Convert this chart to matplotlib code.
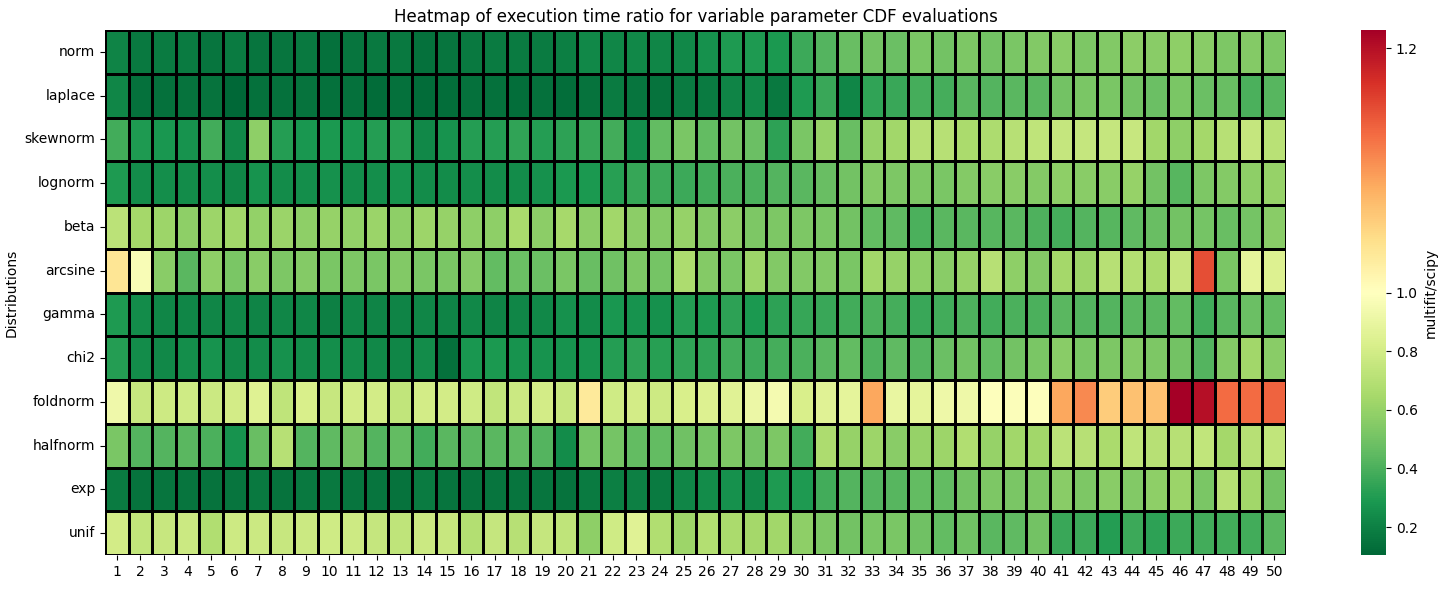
import numpy as np
import pandas as pd
import matplotlib
matplotlib.use("Agg")
import matplotlib.pyplot as plt
import seaborn as sns
from matplotlib.colors import TwoSlopeNorm

distributions = ["norm", "laplace", "skewnorm", "lognorm", "beta", "arcsine",
                 "gamma", "chi2", "foldnorm", "halfnorm", "exp", "unif"]
n_params = list(range(1, 51))

norm_vals = [0.21, 0.17, 0.18, 0.18, 0.16, 0.18, 0.16, 0.16, 0.17, 0.14, 0.16, 0.17,
             0.17, 0.14, 0.16, 0.17, 0.18, 0.18, 0.18, 0.19, 0.23, 0.22, 0.23, 0.22, 0.23,
             0.26, 0.30, 0.30, 0.29, 0.37, 0.42, 0.47, 0.50, 0.48, 0.52, 0.50, 0.53, 0.50,
             0.52, 0.54, 0.56, 0.53, 0.54, 0.57, 0.56, 0.58, 0.56, 0.53, 0.55, 0.53]
laplace_vals = [0.22, 0.14, 0.14, 0.15, 0.15, 0.105, 0.14, 0.14, 0.15, 0.14, 0.14, 0.12,
                0.14, 0.12, 0.13, 0.14, 0.14, 0.13, 0.14, 0.13, 0.15, 0.18, 0.16, 0.15, 0.18,
                0.18, 0.21, 0.23, 0.17, 0.30, 0.36, 0.22, 0.34, 0.36, 0.39, 0.39, 0.44, 0.42,
                0.44, 0.44, 0.50, 0.52, 0.52, 0.50, 0.48, 0.52, 0.48, 0.47, 0.40, 0.43]
skewnorm_vals = [0.38, 0.30, 0.28, 0.27, 0.38, 0.23, 0.58, 0.31, 0.28, 0.29, 0.28, 0.31,
                 0.32, 0.23, 0.27, 0.31, 0.31, 0.34, 0.31, 0.33, 0.35, 0.38, 0.25, 0.46, 0.52,
                 0.46, 0.50, 0.48, 0.33, 0.52, 0.60, 0.47, 0.60, 0.63, 0.70, 0.70, 0.66, 0.67,
                 0.70, 0.73, 0.75, 0.75, 0.75, 0.76, 0.63, 0.58, 0.64, 0.70, 0.75, 0.71]
lognorm_vals = [0.30, 0.24, 0.25, 0.24, 0.25, 0.22, 0.27, 0.24, 0.25, 0.26, 0.24, 0.25,
                0.27, 0.24, 0.24, 0.25, 0.24, 0.24, 0.26, 0.29, 0.29, 0.32, 0.35, 0.37, 0.37,
                0.38, 0.40, 0.40, 0.42, 0.44, 0.47, 0.50, 0.55, 0.53, 0.53, 0.52, 0.55, 0.56,
                0.56, 0.55, 0.58, 0.56, 0.56, 0.60, 0.50, 0.43, 0.53, 0.55, 0.58, 0.60]
beta_vals = [0.72, 0.64, 0.62, 0.58, 0.62, 0.63, 0.59, 0.61, 0.58, 0.60, 0.59, 0.61,
             0.58, 0.62, 0.60, 0.58, 0.58, 0.66, 0.57, 0.65, 0.57, 0.63, 0.57, 0.55, 0.60,
             0.55, 0.57, 0.53, 0.53, 0.53, 0.52, 0.50, 0.46, 0.45, 0.40, 0.44, 0.44, 0.43,
             0.44, 0.41, 0.39, 0.42, 0.43, 0.45, 0.47, 0.50, 0.51, 0.47, 0.51, 0.56]
arcsine_vals = [1.035, 0.97, 0.56, 0.44, 0.58, 0.52, 0.56, 0.53, 0.55, 0.52, 0.53, 0.52,
                0.54, 0.52, 0.52, 0.55, 0.46, 0.48, 0.48, 0.52, 0.47, 0.49, 0.53, 0.51, 0.67,
                0.55, 0.52, 0.62, 0.54, 0.54, 0.54, 0.52, 0.63, 0.60, 0.58, 0.56, 0.60, 0.70,
                0.58, 0.55, 0.64, 0.62, 0.70, 0.69, 0.66, 0.75, 1.15, 0.52, 0.88, 0.84]
gamma_vals = [0.30, 0.24, 0.22, 0.22, 0.22, 0.22, 0.21, 0.22, 0.22, 0.20, 0.22, 0.21,
              0.21, 0.22, 0.21, 0.23, 0.21, 0.22, 0.23, 0.26, 0.24, 0.28, 0.27, 0.26, 0.31,
              0.30, 0.33, 0.29, 0.33, 0.35, 0.36, 0.38, 0.40, 0.39, 0.36, 0.38, 0.41, 0.38,
              0.40, 0.40, 0.44, 0.42, 0.42, 0.44, 0.44, 0.46, 0.38, 0.44, 0.48, 0.46]
chi2_vals = [0.31, 0.24, 0.23, 0.25, 0.27, 0.23, 0.24, 0.26, 0.24, 0.25, 0.24, 0.23,
             0.22, 0.24, 0.14, 0.28, 0.29, 0.27, 0.27, 0.27, 0.27, 0.31, 0.33, 0.32, 0.34,
             0.34, 0.38, 0.37, 0.39, 0.40, 0.44, 0.46, 0.41, 0.45, 0.42, 0.48, 0.50, 0.46,
             0.50, 0.52, 0.56, 0.52, 0.53, 0.55, 0.53, 0.50, 0.42, 0.55, 0.63, 0.56]
foldnorm_vals = [0.93, 0.76, 0.78, 0.79, 0.77, 0.80, 0.85, 0.73, 0.82, 0.76, 0.80, 0.80,
                 0.74, 0.80, 0.80, 0.79, 0.74, 0.77, 0.80, 0.76, 1.03, 0.79, 0.80, 0.78, 0.82,
                 0.84, 0.86, 0.91, 0.95, 0.82, 0.86, 0.88, 1.09, 0.90, 0.88, 0.92, 0.92, 0.99,
                 0.98, 0.99, 1.09, 1.11, 1.06, 1.07, 1.07, 1.215, 1.20, 1.13, 1.13, 1.135]
halfnorm_vals = [0.52, 0.42, 0.42, 0.44, 0.40, 0.27, 0.47, 0.70, 0.42, 0.45, 0.50, 0.42,
                 0.46, 0.38, 0.44, 0.44, 0.44, 0.45, 0.42, 0.24, 0.51, 0.51, 0.46, 0.46, 0.49,
                 0.51, 0.53, 0.50, 0.53, 0.38, 0.67, 0.60, 0.62, 0.56, 0.60, 0.62, 0.68, 0.60,
                 0.63, 0.63, 0.72, 0.70, 0.66, 0.73, 0.70, 0.70, 0.74, 0.64, 0.70, 0.74]
exp_vals = [0.18, 0.15, 0.16, 0.16, 0.15, 0.16, 0.17, 0.15, 0.17, 0.17, 0.16, 0.16,
            0.15, 0.18, 0.16, 0.15, 0.16, 0.16, 0.16, 0.15, 0.18, 0.19, 0.20, 0.18, 0.22,
            0.24, 0.26, 0.23, 0.30, 0.30, 0.38, 0.42, 0.42, 0.43, 0.46, 0.46, 0.50, 0.53,
            0.52, 0.53, 0.56, 0.53, 0.56, 0.54, 0.58, 0.61, 0.52, 0.70, 0.63, 0.50]
unif_vals = [0.80, 0.74, 0.76, 0.77, 0.68, 0.78, 0.77, 0.76, 0.77, 0.79, 0.78, 0.75,
             0.73, 0.77, 0.76, 0.69, 0.75, 0.70, 0.75, 0.73, 0.58, 0.79, 0.86, 0.68, 0.62,
             0.69, 0.66, 0.64, 0.63, 0.58, 0.53, 0.50, 0.52, 0.52, 0.49, 0.46, 0.49, 0.44,
             0.45, 0.50, 0.36, 0.37, 0.31, 0.37, 0.33, 0.37, 0.38, 0.38, 0.38, 0.44]

rows = [norm_vals, laplace_vals, skewnorm_vals, lognorm_vals, beta_vals, arcsine_vals,
        gamma_vals, chi2_vals, foldnorm_vals, halfnorm_vals, exp_vals, unif_vals]
df = pd.DataFrame(rows, index=distributions, columns=n_params)

W, H = 1447, 590
fig = plt.figure(figsize=(W / 100, H / 100), dpi=100)
ax = fig.add_axes([105 / W, 1 - 555 / H, (1286 - 105) / W, (555 - 30) / H])
cax = fig.add_axes([1361 / W, 1 - 555 / H, 25 / W, (555 - 30) / H])

data = df.values
norm = TwoSlopeNorm(vmin=data.min(), vcenter=1.0, vmax=data.max())
sns.heatmap(df, ax=ax, cbar_ax=cax, cmap="RdYlGn_r", norm=norm, linewidths=2,
            linecolor="black", cbar_kws={"label": "multifit/scipy"})
ax.set_title("Heatmap of execution time ratio for variable parameter CDF evaluations")
ax.set_ylabel("Distributions")
ax.set_xlabel("")
ax.set_yticklabels(ax.get_yticklabels(), rotation=0)
ax.set_xticklabels(ax.get_xticklabels(), rotation=0)
cbar = ax.collections[0].colorbar
cbar.set_ticks([0.2, 0.4, 0.6, 0.8, 1.0, 1.2])
plt.savefig("out.png", dpi=100)
